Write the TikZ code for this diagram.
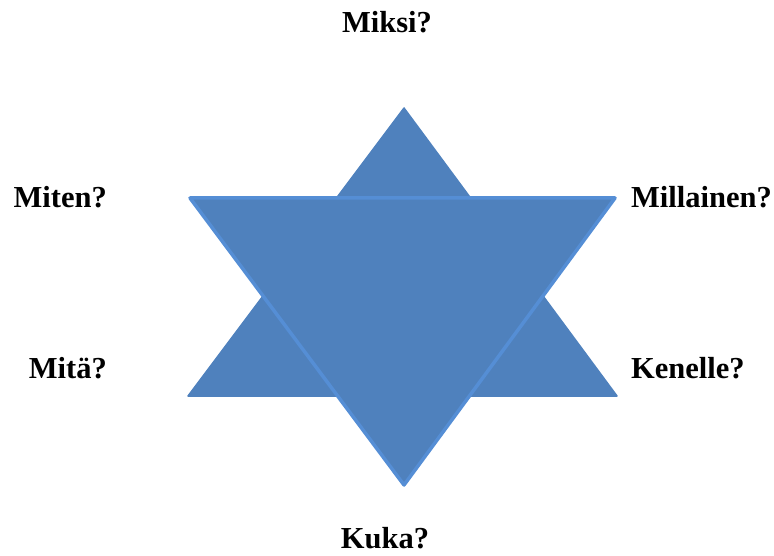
\documentclass[tikz,border=0pt]{standalone}
\usepackage{fontspec}
\setmainfont{Liberation Serif}
\definecolor{starfill}{HTML}{4F81BD}
\definecolor{staredge}{HTML}{558ED5}
\begin{document}
\begin{tikzpicture}[x=1pt,y=-1pt,
  lbl/.style={font=\fontsize{30.5}{32}\selectfont\bfseries, inner sep=0pt}]
\useasboundingbox (0,0) rectangle (774,556);
% upward triangle
\coordinate (ua) at (404,108);
\coordinate (ul) at (188,396);
\coordinate (ur) at (617,396);
\fill[starfill, draw=starfill, line width=1.5pt, line join=round] (ua) -- (ur) -- (ul) -- cycle;
% downward triangle
\coordinate (dl) at (190,198);
\coordinate (dr) at (615,198);
\coordinate (db) at (404,485);
\fill[starfill, draw=staredge, line width=3.5pt, line join=round] (dl) -- (dr) -- (db) -- cycle;
% labels
\node[lbl, anchor=base] (miksi) at (387,33) {Miksi?};
\node[lbl, anchor=base east] (miten) at (107,208) {Miten?};
\node[lbl, anchor=base west] (millainen) at (631,208) {Millainen?};
\node[lbl, anchor=base east] (mita) at (107,378) {Mitä?};
\node[lbl, anchor=base west] (kenelle) at (631,378) {Kenelle?};
\node[lbl, anchor=base] (kuka) at (385,548) {Kuka?};
\end{tikzpicture}
\end{document}
